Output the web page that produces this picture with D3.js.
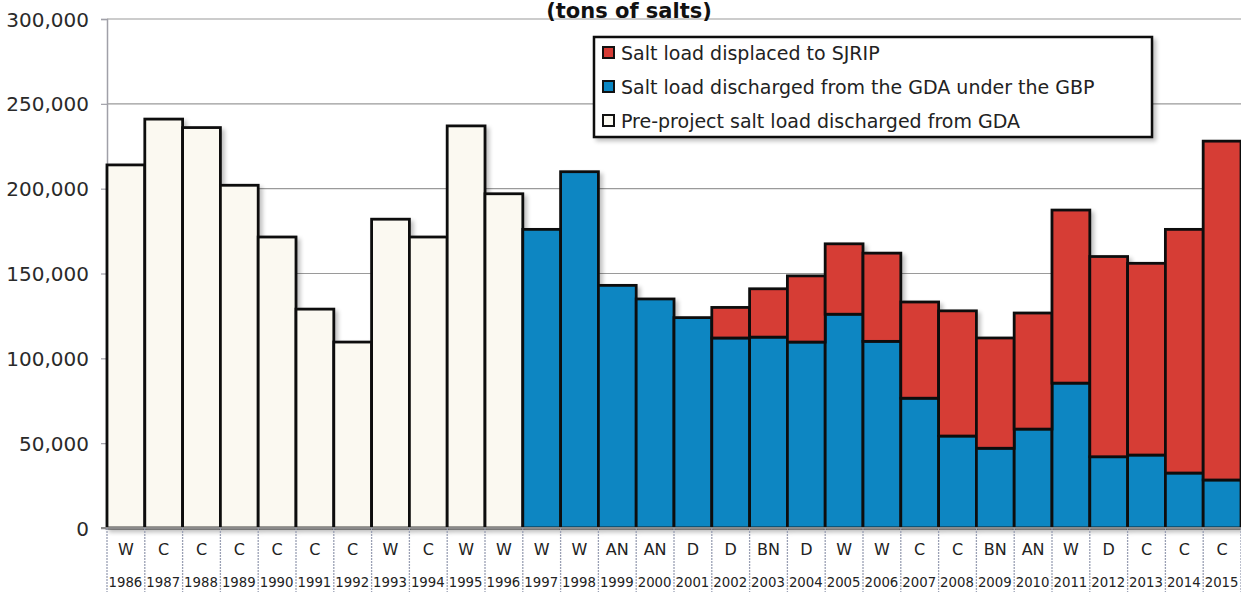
<!DOCTYPE html>
<html>
<head>
<meta charset="utf-8">
<script src="https://cdn.jsdelivr.net/npm/d3@7"></script>
<style>
  html, body { margin: 0; padding: 0; background: #ffffff; }
  svg { display: block; }
  text { font-family: "DejaVu Sans", sans-serif; }
</style>
</head>
<body>
<svg id="chart" width="1241" height="592"></svg>
<script>
// ---- data ----
const years = ["1986","1987","1988","1989","1990","1991","1992","1993","1994","1995","1996","1997","1998","1999","2000","2001","2002","2003","2004","2005","2006","2007","2008","2009","2010","2011","2012","2013","2014","2015"];
const yearTypes = ["W","C","C","C","C","C","C","W","C","W","W","W","W","AN","AN","D","D","BN","D","W","W","C","C","BN","AN","W","D","C","C","C"];
// Pre-project salt load discharged from GDA (1986-1996)
const preProject = [214000,241000,236000,202000,171500,129000,109600,182000,171500,237000,197000,0,0,0,0,0,0,0,0,0,0,0,0,0,0,0,0,0,0,0];
// Salt load discharged from the GDA under the GBP (1997-2015)
const gbpLoad = [0,0,0,0,0,0,0,0,0,0,0,176000,210000,143000,135000,124000,112000,112500,109600,126000,110000,76500,54200,47000,58300,85400,42000,43000,32400,28300];
// Salt load displaced to SJRIP
const sjripLoad = [0,0,0,0,0,0,0,0,0,0,0,0,0,0,0,0,18000,28500,39000,41500,52000,56700,73800,65000,68400,102000,118000,113000,143600,199700];
const yTicks = [0,50000,100000,150000,200000,250000,300000];
const legendLabels = ["Salt load displaced to SJRIP","Salt load discharged from the GDA under the GBP","Pre-project salt load discharged from GDA"];
const legendColors = ["#d63c36","#0a86c2","#fbf9f1"];
const titleText = "(tons of salts)";

// ---- layout ----
const svg = d3.select("#chart");
const mLeft = 107, mRight = 1241, mTop = 19, mBottom = 528;
const x = d3.scaleBand().domain(years).range([mLeft, mRight]).padding(0);
const y = d3.scaleLinear().domain([0, 300000]).range([mBottom, mTop]);

// drop shadow filter
const defs = svg.append("defs");
const f = defs.append("filter").attr("id","shadow").attr("x","-10%").attr("y","-10%").attr("width","130%").attr("height","130%");
f.append("feGaussianBlur").attr("in","SourceAlpha").attr("stdDeviation",2);
f.append("feOffset").attr("dx",3).attr("dy",3).attr("result","ob");
f.append("feComponentTransfer").append("feFuncA").attr("type","linear").attr("slope",0.25);
const mg = f.append("feMerge"); mg.append("feMergeNode"); mg.append("feMergeNode").attr("in","SourceGraphic");

// gridlines
svg.append("g").selectAll("line").data(yTicks.filter(d => d > 0)).join("line")
  .attr("x1", mLeft).attr("x2", mRight)
  .attr("y1", d => y(d)).attr("y2", d => y(d))
  .attr("stroke", "#9a9a9a").attr("stroke-width", 1.2);

// y axis
const yAxis = d3.axisLeft(y).tickValues(yTicks).tickFormat(d3.format(",")).tickSize(6).tickPadding(12);
const gy = svg.append("g").attr("transform", `translate(${mLeft},0)`).call(yAxis);
gy.select(".domain").attr("stroke", "#a0a0a8").attr("stroke-width", 1.5);
gy.selectAll(".tick line").attr("stroke", "#a0a0a8").attr("stroke-width", 1.2);
gy.selectAll(".tick text").attr("font-size", 20).attr("fill", "#2a2a2a")
  .style("font-family", "'DejaVu Sans', sans-serif").attr("dy", "0.35em");

// title
svg.append("text").attr("x", 629).attr("y", 18).attr("text-anchor", "middle")
  .attr("font-size", 21).attr("font-weight", "bold").attr("fill", "#111").text(titleText);

// bars
const barG = svg.append("g").attr("filter", "url(#shadow)");
const rows = years.map((yr, i) => ({yr, pre: preProject[i], gbp: gbpLoad[i], sj: sjripLoad[i]}));
barG.selectAll("rect.pre").data(rows.filter(d => d.pre > 0)).join("rect")
  .attr("x", d => x(d.yr)).attr("width", x.bandwidth())
  .attr("y", d => y(d.pre)).attr("height", d => y(0) - y(d.pre))
  .attr("fill", legendColors[2]).attr("stroke", "#111").attr("stroke-width", 2.8);
barG.selectAll("rect.gbp").data(rows.filter(d => d.gbp > 0)).join("rect")
  .attr("x", d => x(d.yr)).attr("width", x.bandwidth())
  .attr("y", d => y(d.gbp)).attr("height", d => y(0) - y(d.gbp))
  .attr("fill", legendColors[1]).attr("stroke", "#111").attr("stroke-width", 2.8);
barG.selectAll("rect.sj").data(rows.filter(d => d.sj > 0)).join("rect")
  .attr("x", d => x(d.yr)).attr("width", x.bandwidth())
  .attr("y", d => y(d.gbp + d.sj)).attr("height", d => y(d.gbp) - y(d.gbp + d.sj))
  .attr("fill", legendColors[0]).attr("stroke", "#111").attr("stroke-width", 2.8);

// x axis baseline
svg.append("line").attr("x1", mLeft - 6).attr("x2", mRight).attr("y1", mBottom).attr("y2", mBottom)
  .attr("stroke", "#8a8a8a").attr("stroke-width", 2);

// table below
const tableG = svg.append("g");
const bounds = years.map(yr => x(yr)).concat([mRight]);
tableG.selectAll("line.cell").data(bounds).join("line")
  .attr("x1", d => d).attr("x2", d => d).attr("y1", mBottom).attr("y2", 592)
  .attr("stroke", "#9aa0b4").attr("stroke-width", 1.3).attr("stroke-dasharray", "2,1");
tableG.selectAll("text.type").data(rows).join("text")
  .attr("x", (d) => x(d.yr) + x.bandwidth() / 2).attr("y", 555)
  .attr("text-anchor", "middle").attr("font-size", 16).attr("fill", "#222")
  .text((d, i) => yearTypes[i]);
tableG.selectAll("text.yr").data(rows).join("text")
  .attr("x", d => x(d.yr) + x.bandwidth() / 2 - 0.5).attr("y", 587)
  .attr("text-anchor", "middle").attr("font-size", 14.5).attr("fill", "#222")
  .attr("textLength", x.bandwidth() - 4).attr("lengthAdjust", "spacingAndGlyphs")
  .text(d => d.yr);

// legend
const lg = svg.append("g");
lg.append("rect").attr("x", 594).attr("y", 37).attr("width", 558).attr("height", 100)
  .attr("fill", "#fff").attr("stroke", "#111").attr("stroke-width", 2.5).attr("filter", "url(#shadow)");
const items = lg.selectAll("g.item").data(legendLabels).join("g")
  .attr("transform", (d, i) => `translate(603, ${53 + i * 34})`);
items.append("rect").attr("x", 0).attr("y", -6).attr("width", 11).attr("height", 11)
  .attr("fill", (d, i) => legendColors[i]).attr("stroke", "#111").attr("stroke-width", 2);
items.append("text").attr("x", 18).attr("y", 0).attr("dy", "0.35em")
  .attr("font-size", 19).attr("fill", "#222").text(d => d);
</script>
</body>
</html>
